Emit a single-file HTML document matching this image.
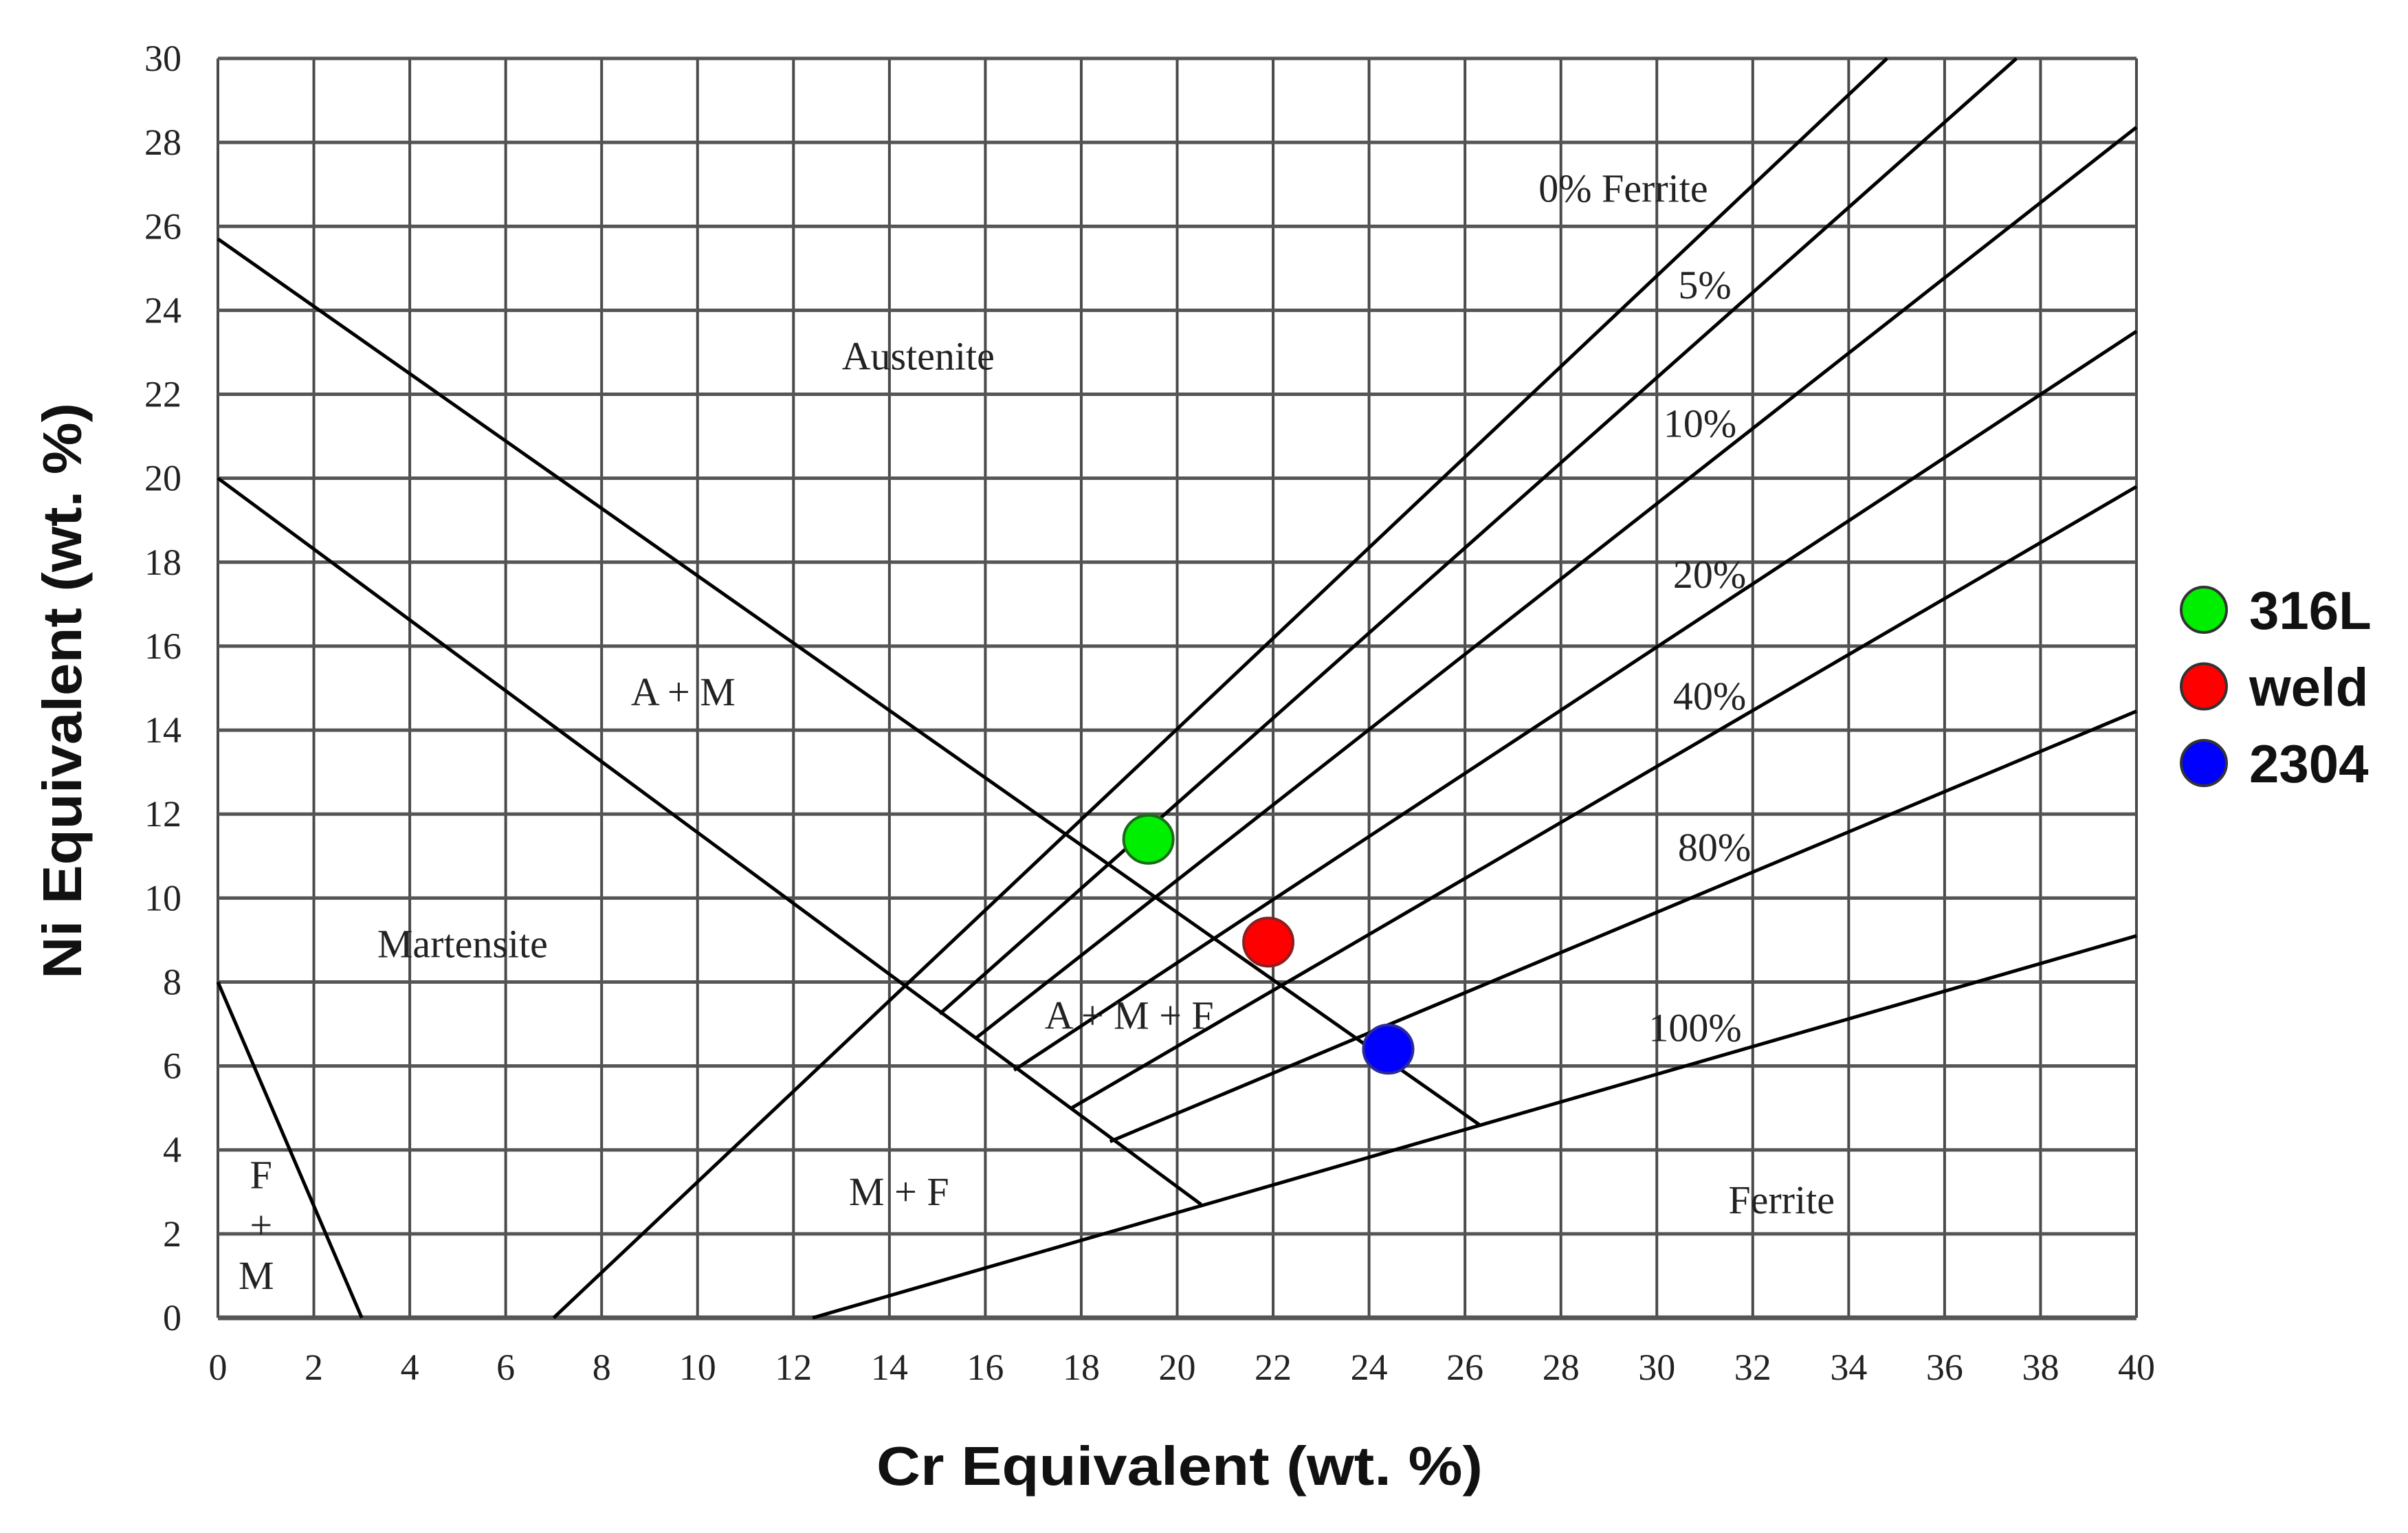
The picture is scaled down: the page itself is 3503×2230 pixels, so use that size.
<!DOCTYPE html>
<html><head><meta charset="utf-8"><style>
html,body{margin:0;padding:0;background:#fff}
svg{display:block}
.t{font-family:"Liberation Serif",serif;font-size:58px;fill:#222}
.k{font-family:"Liberation Serif",serif;font-size:54px;fill:#222}
.b{font-family:"Liberation Sans",sans-serif;font-weight:bold;fill:#111}
</style></head><body>
<svg id="chart" width="3503" height="2230" viewBox="0 0 3503 2230" xmlns="http://www.w3.org/2000/svg">
<g id="grid"></g>
<g id="lines"></g>
<g id="labels"></g>
<g id="ticks"></g>
<g id="pts"></g>
<text class="b" x="1716" y="2160" font-size="80" text-anchor="middle" textLength="882" lengthAdjust="spacingAndGlyphs">Cr Equivalent (wt. %)</text>
<text class="b" transform="translate(118,1005) rotate(-90)" font-size="80" text-anchor="middle" textLength="838" lengthAdjust="spacingAndGlyphs">Ni Equivalent (wt. %)</text>
<g id="legend"></g>
</svg>
<script>
const xTicks=[0,2,4,6,8,10,12,14,16,18,20,22,24,26,28,30,32,34,36,38,40];
const yTicks=[0,2,4,6,8,10,12,14,16,18,20,22,24,26,28,30];
const lineNames=["upper-martensite","lower-martensite","fm-boundary","ferrite-0","ferrite-5","ferrite-10","ferrite-20","ferrite-40","ferrite-80","ferrite-100"];
const lineX1=[0,0,0,7,15.05,15.8,16.6,17.8,18.6,12.4];
const lineY1=[25.7,20,8,0,7.24,6.66,5.9,5.0,4.2,0];
const lineX2=[26.3,20.5,3,34.8,37.5,40,40,40,40,40];
const lineY2=[4.6,2.7,0,30,30,28.36,23.5,19.8,14.45,9.1];
const ptNames=["316L","weld","2304"];
const ptCr=[19.4,21.9,24.4];
const ptNi=[11.4,8.95,6.4];
const ptFill=["#00ee00","#ff0000","#0000ff"];
const ptStroke=["#1a6a1a","#8a2020","#2a2a9a"];
const regionText=["0% Ferrite","5%","10%","20%","40%","80%","100%","Austenite","A + M","Martensite","A + M + F","M + F","Ferrite","F","+","M"];
const regionCr=[29.3,31.0,30.9,31.1,31.1,31.2,30.8,14.6,9.7,5.1,19.0,14.2,32.6,0.9,0.9,0.8];
const regionNi=[26.9,24.6,21.3,17.7,14.8,11.2,6.9,22.9,14.9,8.9,7.2,3.0,2.8,3.4,2.2,1.0];
</script>
<script>
(function(){
const NS="http://www.w3.org/2000/svg";
const X=v=>317+v*(3108-317)/40, Y=v=>1917-v*(1917-85)/30;
function mk(tag,attrs,parent){const e=document.createElementNS(NS,tag);for(const k in attrs)e.setAttribute(k,attrs[k]);parent.appendChild(e);return e;}
const g=document.getElementById('grid');
xTicks.forEach(v=>{const e=mk('line',{x1:X(v),x2:X(v),y1:Y(0),y2:Y(30),stroke:'#4a4a4a','stroke-width':4},g);

});
yTicks.forEach(v=>{const e=mk('line',{x1:X(0),x2:X(40),y1:Y(v),y2:Y(v),stroke:'#555','stroke-width':(v==0?7:5)},g);

});
const tk=document.getElementById('ticks');
xTicks.forEach(v=>{const e=mk('text',{x:X(v),y:2007,'text-anchor':'middle',class:'k'},tk);e.textContent=v;

});
yTicks.forEach(v=>{const e=mk('text',{x:264,y:Y(v)+18,'text-anchor':'end',class:'k'},tk);e.textContent=v;

});
const ln=document.getElementById('lines');
lineNames.forEach((n,i)=>{const e=mk('line',{x1:X(lineX1[i]),y1:Y(lineY1[i]),x2:X(lineX2[i]),y2:Y(lineY2[i]),stroke:'#000','stroke-width':5},ln);

});
const lb=document.getElementById('labels');
regionText.forEach((t,i)=>{const e=mk('text',{x:X(regionCr[i]),y:Y(regionNi[i])+19,'text-anchor':'middle',class:'t'},lb);e.textContent=t;

});
const p=document.getElementById('pts'), lg=document.getElementById('legend');
ptNames.forEach((n,i)=>{const c=mk('ellipse',{cx:X(ptCr[i]),cy:Y(ptNi[i]),rx:36,ry:35,fill:ptFill[i],stroke:ptStroke[i],'stroke-width':4},p);


const lc=mk('circle',{cx:3206,cy:887+i*111.5,r:33,fill:ptFill[i],stroke:'#333','stroke-width':4},lg);


const lt=mk('text',{x:3272,y:887+i*111.5+28,class:'b','font-size':78},lg);lt.textContent=n;

});
})();
</script>
</body></html>
